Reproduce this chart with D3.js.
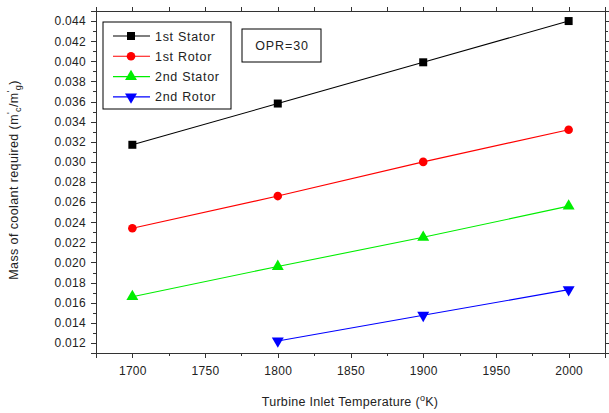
<!DOCTYPE html>
<html>
<head>
	<script src="https://d3js.org/d3.v7.min.js"></script>
	<style>
		body { margin: 0; background: #fff; }
		text { font-family: "Liberation Sans", Arial, sans-serif; }
		.axis path, .axis line { stroke: #333; shape-rendering: crispEdges; }
		.axis text { font-size: 12px; fill: #222; font-family: "Liberation Sans", Arial, sans-serif; letter-spacing: 0.3px; }
	</style>
</head>
<body>
	<div id="plot"></div>
	<script>
		// data
		var temps = [1700, 1800, 1900, 2000];
		var stator1 = [0.0317, 0.0358, 0.0399, 0.0440];
		var rotor1 = [0.0234, 0.0266, 0.0300, 0.0332];
		var stator2 = [0.0166, 0.0196, 0.0225, 0.0256];
		var rotor2 = [null, 0.0122, 0.01475, 0.0173];
		var seriesNames = ["1st Stator", "1st Rotor", "2nd Stator", "2nd Rotor"];
		var xTicks = [1700, 1750, 1800, 1850, 1900, 1950, 2000];

		var w = 609, h = 413;
		var padL = 96, padR = 605, padT = 11, padB = 353;

		var svg = d3.select("#plot").append("svg")
			.attr("width", w).attr("height", h);

		var x = d3.scaleLinear().domain([1675, 2025]).range([padL, padR]);
		var y = d3.scaleLinear().domain([0.011, 0.045]).range([padB, padT]);

		var series = [
			{ name: seriesNames[0], vals: stator1, color: "#000000", sym: d3.symbolSquare, size: 64, rot: 0 },
			{ name: seriesNames[1], vals: rotor1, color: "#ff0000", sym: d3.symbolCircle, size: 58, rot: 0 },
			{ name: seriesNames[2], vals: stator2, color: "#00ee00", sym: d3.symbolTriangle, size: 62, rot: 0 },
			{ name: seriesNames[3], vals: rotor2, color: "#0000ff", sym: d3.symbolTriangle, size: 62, rot: 180 }
		];

		// minor ticks
		var xMinor = d3.range(1675, 2026, 25);
		var yMinor = d3.range(11, 45.1, 1).map(function(v) { return v / 1000; });
		var yMajor = d3.range(12, 44.1, 2).map(function(v) { return v / 1000; });

		// bottom axis
		svg.append("g").attr("class", "axis")
			.attr("transform", "translate(0," + padB + ")")
			.call(d3.axisBottom(x).tickValues(xMinor).tickSize(3).tickFormat(""));
		svg.append("g").attr("class", "axis")
			.attr("transform", "translate(0," + padB + ")")
			.call(d3.axisBottom(x).tickValues(xTicks).tickSize(5).tickPadding(8).tickFormat(d3.format("d")));
		// top axis
		svg.append("g").attr("class", "axis")
			.attr("transform", "translate(0," + padT + ")")
			.call(d3.axisTop(x).tickValues(xMinor).tickSize(4).tickFormat(""));
		// left axis
		svg.append("g").attr("class", "axis")
			.attr("transform", "translate(" + padL + ",0)")
			.call(d3.axisLeft(y).tickValues(yMinor).tickSize(3).tickFormat(""));
		svg.append("g").attr("class", "axis")
			.attr("transform", "translate(" + padL + ",0)")
			.call(d3.axisLeft(y).tickValues(yMajor).tickSize(5).tickPadding(5).tickFormat(d3.format(".3f")));
		// right axis
		svg.append("g").attr("class", "axis")
			.attr("transform", "translate(" + padR + ",0)")
			.call(d3.axisRight(y).tickValues(yMinor).tickSize(3).tickFormat(""));
		svg.append("g").attr("class", "axis")
			.attr("transform", "translate(" + padR + ",0)")
			.call(d3.axisRight(y).tickValues(yMajor).tickSize(5).tickFormat(""));

		// lines and markers
		var line = d3.line()
			.defined(function(d) { return d[1] != null; })
			.x(function(d) { return x(d[0]); })
			.y(function(d) { return y(d[1]); });

		series.forEach(function(s) {
			var pts = temps.map(function(t, i) { return [t, s.vals[i]]; });
			svg.append("path").datum(pts)
				.attr("fill", "none").attr("stroke", s.color).attr("stroke-width", 1.1)
				.attr("d", line);
			svg.selectAll(null).data(pts.filter(function(d) { return d[1] != null; }))
				.enter().append("path")
				.attr("d", d3.symbol().type(s.sym).size(s.size))
				.attr("fill", s.color)
				.attr("transform", function(d) {
					return "translate(" + x(d[0]) + "," + y(d[1]) + ") rotate(" + s.rot + ")";
				});
		});

		// legend
		var lg = svg.append("g");
		lg.append("rect").attr("x", 103).attr("y", 22).attr("width", 128).attr("height", 87)
			.attr("fill", "#fff").attr("stroke", "#000").attr("stroke-width", 1);
		series.forEach(function(s, i) {
			var ly = 36 + i * 20.3;
			lg.append("line").attr("x1", 113).attr("x2", 150).attr("y1", ly).attr("y2", ly)
				.attr("stroke", s.color).attr("stroke-width", 1.1);
			lg.append("path").attr("d", d3.symbol().type(s.sym).size(s.size))
				.attr("fill", s.color)
				.attr("transform", "translate(131," + ly + ") rotate(" + s.rot + ")");
			lg.append("text").attr("x", 155).attr("y", ly + 4.5)
				.attr("font-size", 12.5).attr("fill", "#222").style("letter-spacing", "0.7px")
				.text(s.name);
		});

		// OPR box
		svg.append("rect").attr("x", 242).attr("y", 29).attr("width", 79).attr("height", 33)
			.attr("fill", "#fff").attr("stroke", "#000");
		svg.append("text").attr("x", 282).attr("y", 50).attr("text-anchor", "middle")
			.attr("font-size", 12.5).attr("fill", "#222").style("letter-spacing", "0.9px")
			.text("OPR=30");

		// axis titles
		var xt = svg.append("text").attr("x", 350).attr("y", 406).attr("text-anchor", "middle")
			.attr("font-size", 12.5).attr("fill", "#222").style("letter-spacing", "0.3px");
		xt.append("tspan").text("Turbine Inlet Temperature (");
		xt.append("tspan").attr("dy", -5).attr("font-size", 9).text("o");
		xt.append("tspan").attr("dy", 5).text("K)");

		var yt = svg.append("text").attr("transform", "translate(18,180) rotate(-90)")
			.attr("text-anchor", "middle").attr("font-size", 12.5).attr("fill", "#222")
			.style("letter-spacing", "0.4px");
		yt.append("tspan").text("Mass of coolant required (m");
		yt.append("tspan").attr("dy", -5).attr("font-size", 9).text("'");
		yt.append("tspan").attr("dy", 8).attr("font-size", 9).text("c");
		yt.append("tspan").attr("dy", -3).text("/m");
		yt.append("tspan").attr("dy", -5).attr("font-size", 9).text("'");
		yt.append("tspan").attr("dy", 8).attr("font-size", 9).text("g");
		yt.append("tspan").attr("dy", -3).text(")");
	</script>
</body>
</html>
